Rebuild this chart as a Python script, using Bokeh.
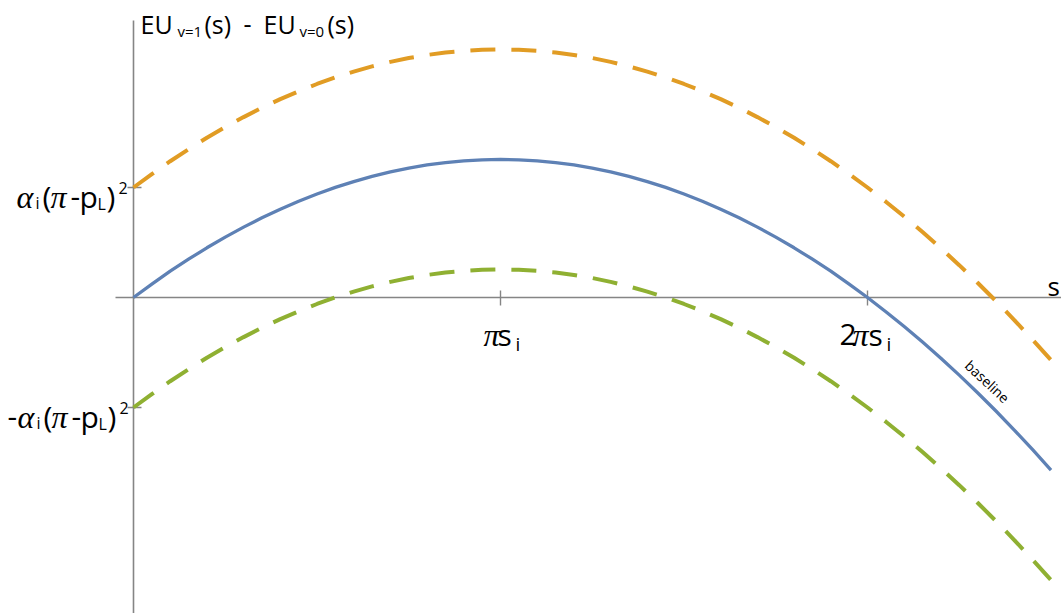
from bokeh.plotting import figure
from bokeh.models import Label, Range1d
from bokeh.embed import file_html
from bokeh.resources import INLINE

# ---- data (x in units of pi*s_i, y in units of alpha_i(pi-p_L)^2)
s_vals = [0.0, 0.05, 0.1, 0.15, 0.2, 0.25, 0.3, 0.35, 0.4, 0.45, 0.5, 0.55, 0.6,
          0.65, 0.7, 0.75, 0.8, 0.85, 0.9, 0.95, 1.0, 1.05, 1.1, 1.15, 1.2, 1.25,
          1.3, 1.35, 1.4, 1.45, 1.5, 1.55, 1.6, 1.65, 1.7, 1.75, 1.8, 1.85, 1.9,
          1.95, 2.0, 2.05, 2.1, 2.15, 2.2, 2.25, 2.3, 2.35, 2.4, 2.45, 2.5]
baseline = [0.000, 0.122, 0.239, 0.348, 0.452, 0.549, 0.640, 0.725, 0.803, 0.875,
            0.941, 1.001, 1.054, 1.101, 1.142, 1.177, 1.205, 1.227, 1.242, 1.252,
            1.255, 1.252, 1.242, 1.227, 1.205, 1.177, 1.142, 1.101, 1.054, 1.001,
            0.941, 0.875, 0.803, 0.725, 0.640, 0.549, 0.452, 0.348, 0.239, 0.122,
            0.000, -0.129, -0.264, -0.405, -0.552, -0.706, -0.866, -1.032, -1.205,
            -1.384, -1.569]
upper = [1.000, 1.122, 1.239, 1.348, 1.452, 1.549, 1.640, 1.725, 1.803, 1.875,
         1.941, 2.001, 2.054, 2.101, 2.142, 2.177, 2.205, 2.227, 2.242, 2.252,
         2.255, 2.252, 2.242, 2.227, 2.205, 2.177, 2.142, 2.101, 2.054, 2.001,
         1.941, 1.875, 1.803, 1.725, 1.640, 1.549, 1.452, 1.348, 1.239, 1.122,
         1.000, 0.871, 0.736, 0.595, 0.448, 0.294, 0.134, -0.032, -0.205,
         -0.384, -0.569]
lower = [-1.000, -0.878, -0.761, -0.652, -0.548, -0.451, -0.360, -0.275, -0.197,
         -0.125, -0.059, 0.001, 0.054, 0.101, 0.142, 0.177, 0.205, 0.227, 0.242,
         0.252, 0.255, 0.252, 0.242, 0.227, 0.205, 0.177, 0.142, 0.101, 0.054,
         0.001, -0.059, -0.125, -0.197, -0.275, -0.360, -0.451, -0.548, -0.652,
         -0.761, -0.878, -1.000, -1.129, -1.264, -1.405, -1.552, -1.706, -1.866,
         -2.032, -2.205, -2.384, -2.569]
x_ticks = [1, 2]
x_tick_prefix = ["", "2"]
y_ticks = [1, -1]
y_tick_sign = ["", "-"]

BLUE = "#5E81B5"
ORANGE = "#E19C24"
GREEN = "#8FB032"
AXIS = "#858585"

PX_X, PX_Y = 367.0, 110.0
W, H = 1061, 613
OX, OY = 133, 297  # canvas position of the origin

p = figure(width=W, height=H,
           x_range=Range1d(-OX / PX_X, (W - OX) / PX_X),
           y_range=Range1d(-(H - OY) / PX_Y, OY / PX_Y),
           output_backend="svg", toolbar_location=None,
           x_axis_type=None, y_axis_type=None, min_border=0)
p.outline_line_color = None
p.background_fill_color = "white"
p.border_fill_color = "white"

# axes
p.segment(x0=[-18 / PX_X], y0=[0], x1=[(W - OX) / PX_X], y1=[0],
          line_color=AXIS, line_width=1.6)
p.segment(x0=[0], y0=[-(H - OY) / PX_Y], x1=[0], y1=[277 / PX_Y],
          line_color=AXIS, line_width=1.6)
p.segment(x0=x_ticks, y0=[-8 / PX_Y] * len(x_ticks), x1=x_ticks,
          y1=[7 / PX_Y] * len(x_ticks), line_color=AXIS, line_width=1.4)
p.segment(x0=[-6 / PX_X] * len(y_ticks), y0=y_ticks, x1=[8 / PX_X] * len(y_ticks),
          y1=y_ticks, line_color=AXIS, line_width=1.4)

# curves
p.line(s_vals, upper, line_color=ORANGE, line_width=4, line_dash="25 16")
p.line(s_vals, lower, line_color=GREEN, line_width=4, line_dash="25 16")
p.line(s_vals, baseline, line_color=BLUE, line_width=3.3, line_join="round")

SANS = "Open Sans"
SERIF = "Liberation Serif"


def piece(x, y, text, dx, dy, size, font=SANS, style="normal", units="data",
          align="left", angle=0.0, baseline_="alphabetic"):
    p.add_layout(Label(x=x, y=y, x_units=units, y_units=units, text=text,
                       x_offset=dx, y_offset=dy, text_font_size=f"{size}px",
                       text_font=font, text_font_style=style, text_color="black",
                       text_align=align, text_baseline=baseline_, angle=angle))


# x tick labels: (2)πs_i
for xv, pre in zip(x_ticks, x_tick_prefix):
    if pre:
        piece(xv, 0, pre, -28, -37, 30)
        piece(xv, 0, "π", -15, -37, 32, SERIF, "italic")
        piece(xv, 0, "s", 1, -37, 30)
        piece(xv, 0, "i", 19, -46, 19)
    else:
        piece(xv, 0, "π", -17, -37, 32, SERIF, "italic")
        piece(xv, 0, "s", -3, -37, 30)
        piece(xv, 0, "i", 15, -46, 19)

# y tick labels: (-)α_i(π-p_L)^2
for yv, sign in zip(y_ticks, y_tick_sign):
    sh = 1 if sign else 0
    if sign:
        piece(0, yv, "-", -126, -9, 30)
    piece(0, yv, "α", -117 + sh, -9, 32, SERIF, "italic")
    piece(0, yv, "i", -98 + sh, -15, 16)
    piece(0, yv, "(", -91 + sh, -9, 30)
    piece(0, yv, "π", -83 + sh, -9, 32, SERIF, "italic")
    piece(0, yv, "-", -63 + sh, -9, 30)
    piece(0, yv, "p", -54 + sh, -9, 30)
    piece(0, yv, "L", -36 + sh, -16, 16)
    piece(0, yv, ")", -27 + sh, -9, 30)
    piece(0, yv, "2", -15 + sh, 0, 16)


# y-axis title: EU_{v=1}(s) - EU_{v=0}(s)   (screen units; y from bottom)
def sy(ref_y):
    return H - ref_y


piece(140, sy(23), "EU", 0, 0, 25, units="screen")
piece(177, sy(30), "v=1", 0, 0, 15, units="screen")
piece(204, sy(23), "(s)", 0, 0, 25, units="screen")
piece(243, sy(23), "-", 0, 0, 25, units="screen")
piece(263, sy(23), "EU", 0, 0, 25, units="screen")
piece(299, sy(30), "v=0", 0, 0, 15, units="screen")
piece(327, sy(23), "(s)", 0, 0, 25, units="screen")

# x-axis title
piece(1047, sy(285), "s", 0, 0, 26, units="screen")

# curve label
piece(987, sy(381), "baseline", 0, 0, 14, units="screen", align="center",
      angle=-0.75, baseline_="middle")

open("out.html", "w").write(file_html(p, INLINE))
